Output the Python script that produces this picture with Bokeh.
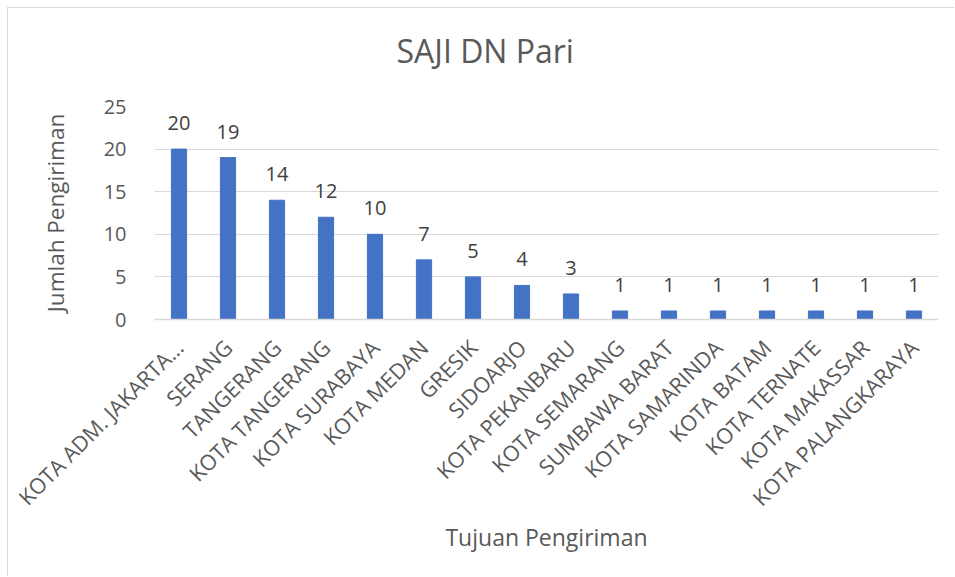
import math
from bokeh.plotting import figure
from bokeh.models import FactorRange, Range1d, FixedTicker, ColumnDataSource, Title
from bokeh.core.properties import value
from bokeh.embed import file_html
from bokeh.resources import INLINE

categories = ["KOTA ADM. JAKARTA…", "SERANG", "TANGERANG", "KOTA TANGERANG",
              "KOTA SURABAYA", "KOTA MEDAN", "GRESIK", "SIDOARJO", "KOTA PEKANBARU",
              "KOTA SEMARANG", "SUMBAWA BARAT", "KOTA SAMARINDA", "KOTA BATAM",
              "KOTA TERNATE", "KOTA MAKASSAR", "KOTA PALANGKARAYA"]
counts = [20, 19, 14, 12, 10, 7, 5, 4, 3, 1, 1, 1, 1, 1, 1, 1]
y_ticks = [0, 5, 10, 15, 20, 25]
title_text = "SAJI DN Pari"
x_title = "Tujuan Pengiriman"
y_title = "Jumlah Pengiriman"

FONT = "Open Sans"
GRAY = "#595959"
DARK = "#404040"
BAR = "#4472C4"
GRID = "#d9d9d9"

source = ColumnDataSource(data=dict(cat=categories, n=counts,
                                    lbl=[str(v) for v in counts]))

p = figure(width=947, height=569, output_backend="svg", toolbar_location=None,
           x_range=FactorRange(*categories), y_range=Range1d(0, 25),
           min_border_left=146, min_border_right=17, min_border_top=98,
           min_border_bottom=258)
p.styles = {"margin-left": "7px", "margin-top": "7px",
            "border-left": "1px solid #d9d9d9", "border-top": "1px solid #d9d9d9"}

p.outline_line_color = None
p.background_fill_color = "white"
p.border_fill_color = "white"

p.title = None
# thin spacer panel between the frame and the chart title
spacer = Title(text=" ", text_font_size="1px", standoff=32, text_color="white")
p.add_layout(spacer, "above")
main_title = Title(text=title_text, align="left", offset=242, standoff=0,
                   vertical_align="bottom",
                   text_font=FONT, text_font_size="32px", text_font_style="normal",
                   text_color=GRAY)
p.add_layout(main_title, "above")

p.vbar(x="cat", top="n", width=0.31, source=source, color=BAR, line_color=BAR)

p.text(x="cat", y="n", text="lbl", source=source, text_align="center",
       text_baseline="alphabetic", y_offset=-26, text_font=value(FONT),
       text_font_size="20px", text_color=DARK)

p.xgrid.grid_line_color = None
p.ygrid.grid_line_color = GRID
p.ygrid.grid_line_width = 1

p.yaxis.ticker = FixedTicker(ticks=y_ticks)
p.yaxis.axis_line_color = None
p.yaxis.major_tick_line_color = None
p.yaxis.minor_tick_line_color = None
p.yaxis.major_label_standoff = 22
p.yaxis.major_label_text_font = FONT
p.yaxis.major_label_text_font_size = "20px"
p.yaxis.major_label_text_color = GRAY
p.yaxis.axis_label = y_title
p.yaxis.axis_label_text_font = FONT
p.yaxis.axis_label_text_font_size = "22.5px"
p.yaxis.axis_label_text_font_style = "normal"
p.yaxis.axis_label_text_color = GRAY
p.yaxis.axis_label_standoff = 30

p.xaxis.axis_line_color = GRID
p.xaxis.axis_line_width = 1.5
p.xaxis.major_tick_line_color = None
p.xaxis.minor_tick_line_color = None
p.xaxis.major_label_orientation = math.pi / 4
p.xaxis.major_label_standoff = 18
p.xaxis.major_label_text_font = FONT
p.xaxis.major_label_text_font_size = "21.5px"
p.xaxis.major_label_text_color = GRAY
p.xaxis.axis_label = x_title
p.xaxis.axis_label_text_font = FONT
p.xaxis.axis_label_text_font_size = "23px"
p.xaxis.axis_label_text_font_style = "normal"
p.xaxis.axis_label_text_color = GRAY
p.xaxis.axis_label_standoff = -4

open("out.html", "w").write(file_html(p, INLINE))
